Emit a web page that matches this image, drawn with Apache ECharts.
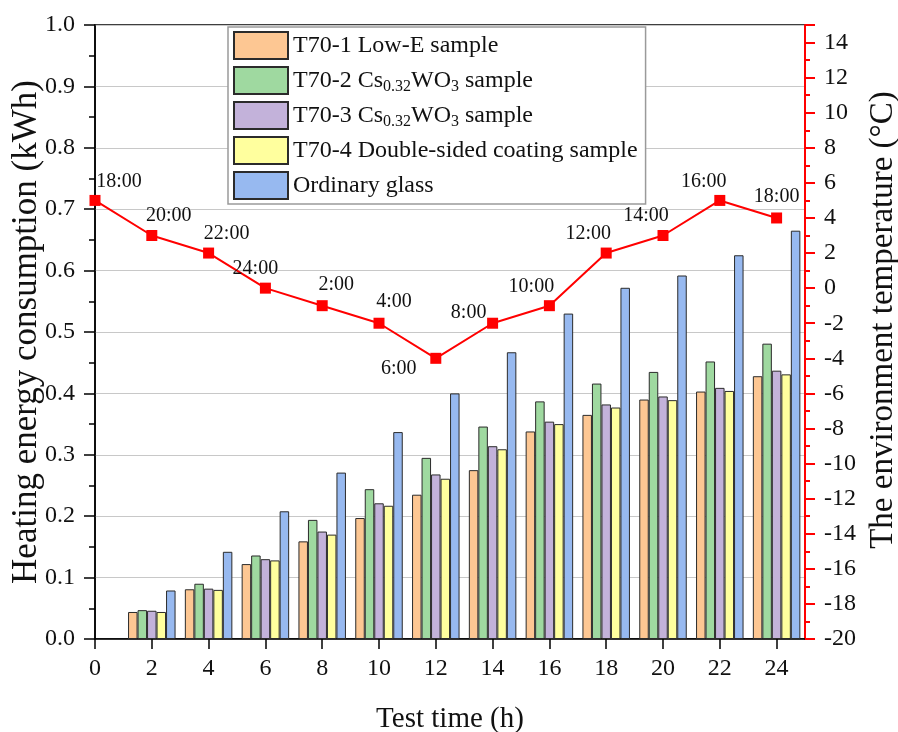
<!DOCTYPE html>
<html>
<head>
<meta charset="utf-8">
<title>Heating energy consumption</title>
<script src="https://cdn.jsdelivr.net/npm/echarts@6/dist/echarts.min.js"></script>
<style>
  html, body { margin: 0; padding: 0; background: #fff; }
  #chart { width: 898px; height: 732px; }
</style>
</head>
<body>
<div id="chart"></div>
<script>
// Test time (h) at which each group of bars is measured
const testHours = [2, 4, 6, 8, 10, 12, 14, 16, 18, 20, 22, 24];

// Cumulative heating energy consumption (kWh) for each sample
const lowE      = [0.044, 0.081, 0.122, 0.159, 0.197, 0.235, 0.275, 0.338, 0.365, 0.390, 0.403, 0.428];
const cswo2     = [0.047, 0.090, 0.136, 0.194, 0.244, 0.295, 0.346, 0.387, 0.416, 0.435, 0.452, 0.481];
const cswo3     = [0.046, 0.082, 0.130, 0.175, 0.221, 0.268, 0.314, 0.354, 0.382, 0.395, 0.409, 0.437];
const doubleSd  = [0.044, 0.080, 0.128, 0.170, 0.217, 0.261, 0.309, 0.350, 0.377, 0.389, 0.404, 0.431];
const ordinary  = [0.079, 0.142, 0.208, 0.271, 0.337, 0.400, 0.467, 0.530, 0.572, 0.592, 0.625, 0.665];

// Environment temperature (°C) with the clock time of each reading
const tempHours = [0, 2, 4, 6, 8, 10, 12, 14, 16, 18, 20, 22, 24];
const tempValues = [5, 3, 2, 0, -1, -2, -4, -2, -1, 2, 3, 5, 4];
const clockLabels = ['18:00', '20:00', '22:00', '24:00', '2:00', '4:00', '6:00',
                     '8:00', '10:00', '12:00', '14:00', '16:00', '18:00'];

// Series names as shown in the legend
const seriesNames = [
  'T70-1 Low-E sample',
  'T70-2 Cs0.32WO3 sample',
  'T70-3 Cs0.32WO3 sample',
  'T70-4 Double-sided coating sample',
  'Ordinary glass'
];

// Where each clock label sits relative to its marker [dx, dy]
const labelShift = [[24, -19], [17, -20], [18, -19], [-10, -19], [14, -21], [15, -21],
                    [-37, 10], [-24, -10], [-18, -19], [-18, -19], [-17, -20], [-16, -19], [0, -21]];

const FONT = 'Liberation Serif';
const barColors = ['#fdc793', '#9fd9a0', '#c3b2da', '#ffff9e', '#97b9f0'];
const barValues = [lowE, cswo2, cswo3, doubleSd, ordinary];

const barSeries = barValues.map((vals, i) => ({
  name: seriesNames[i],
  type: 'bar',
  yAxisIndex: 0,
  barWidth: 9.5,
  barGap: '0%',
  itemStyle: { color: barColors[i], borderColor: '#2b2b2b', borderWidth: 1 },
  data: testHours.map((h, k) => [h, vals[k]])
}));

const lineSeries = {
  name: 'temperature',
  type: 'line',
  yAxisIndex: 1,
  symbol: 'rect',
  symbolSize: 11,
  lineStyle: { color: '#ff0000', width: 2 },
  itemStyle: { color: '#ff0000' },
  z: 5,
  data: tempHours.map((h, k) => ({
    value: [h, tempValues[k]],
    label: {
      show: true,
      position: 'inside',
      offset: labelShift[k],
      formatter: clockLabels[k],
      fontFamily: FONT,
      fontSize: 20,
      color: '#111'
    }
  }))
};

const chart = echarts.init(document.getElementById('chart'));
chart.setOption({
  backgroundColor: '#fff',
  animation: false,
  textStyle: { fontFamily: FONT },
  grid: {
    left: 95, right: 93, top: 25, bottom: 93,
    containLabel: false,
    outerBoundsMode: 'none',
    show: true, borderColor: '#000', borderWidth: 1.5, backgroundColor: 'transparent'
  },
  legend: {
    data: seriesNames,
    orient: 'vertical',
    left: 228,
    top: 27,
    padding: [4, 8, 4, 5],
    icon: 'rect',
    itemWidth: 54,
    itemHeight: 27,
    itemGap: 6,
    backgroundColor: '#fff',
    borderColor: '#9a9a9a',
    borderWidth: 1.5,
    textStyle: {
      fontFamily: FONT,
      fontSize: 24,
      color: '#111',
      lineHeight: 26,
      rich: {
        s: { fontFamily: FONT, fontSize: 16, color: '#111', padding: [13, 0, 0, 0] }
      }
    },
    formatter: name => name.replace('Cs0.32WO3', 'Cs{s|0.32}WO{s|3}')
  },
  xAxis: {
    type: 'value',
    min: 0,
    max: 25,
    interval: 2,
    name: 'Test time (h)',
    nameLocation: 'middle',
    nameGap: 66,
    nameTextStyle: { fontFamily: FONT, fontSize: 29, color: '#111' },
    axisLine: { show: true, lineStyle: { color: '#000', width: 1.5 } },
    axisTick: { show: true, length: 10, lineStyle: { color: '#000', width: 1.5 } },
    axisLabel: { margin: 18, fontFamily: FONT, fontSize: 24, color: '#111', showMaxLabel: false },
    splitLine: { show: false }
  },
  yAxis: [
    {
      type: 'value',
      min: 0,
      max: 1,
      interval: 0.1,
      name: 'Heating energy consumption (kWh)',
      nameLocation: 'middle',
      nameGap: 51,
      nameMoveOverlap: false,
      nameTextStyle: { fontFamily: FONT, fontSize: 35, color: '#111' },
      axisLine: { show: true, lineStyle: { color: '#000', width: 1.5 } },
      axisTick: { show: true, length: 11, lineStyle: { color: '#000', width: 1.5 } },
      minorTick: { show: true, splitNumber: 2, length: 6, lineStyle: { color: '#000', width: 1.5 } },
      axisLabel: { margin: 20, fontFamily: FONT, fontSize: 24, color: '#111',
                   formatter: v => v.toFixed(1) },
      splitLine: { show: true, lineStyle: { color: '#c8c8c8', width: 1 } }
    },
    {
      type: 'value',
      min: -20,
      max: 15,
      interval: 2,
      position: 'right',
      name: 'The environment temperature (°C)',
      nameLocation: 'middle',
      nameGap: 56,
      nameTextStyle: { fontFamily: FONT, fontSize: 33, color: '#111', padding: [0, 0, 0, 24] },
      axisLine: { show: true, lineStyle: { color: '#ff0000', width: 2 } },
      axisTick: { show: true, length: 10, lineStyle: { color: '#ff0000', width: 2 } },
      minorTick: { show: true, splitNumber: 2, length: 5, lineStyle: { color: '#ff0000', width: 2 } },
      axisLabel: { margin: 19, fontFamily: FONT, fontSize: 24, color: '#111', showMaxLabel: false },
      splitLine: { show: false }
    }
  ],
  series: [...barSeries, lineSeries]
});
</script>
</body>
</html>
